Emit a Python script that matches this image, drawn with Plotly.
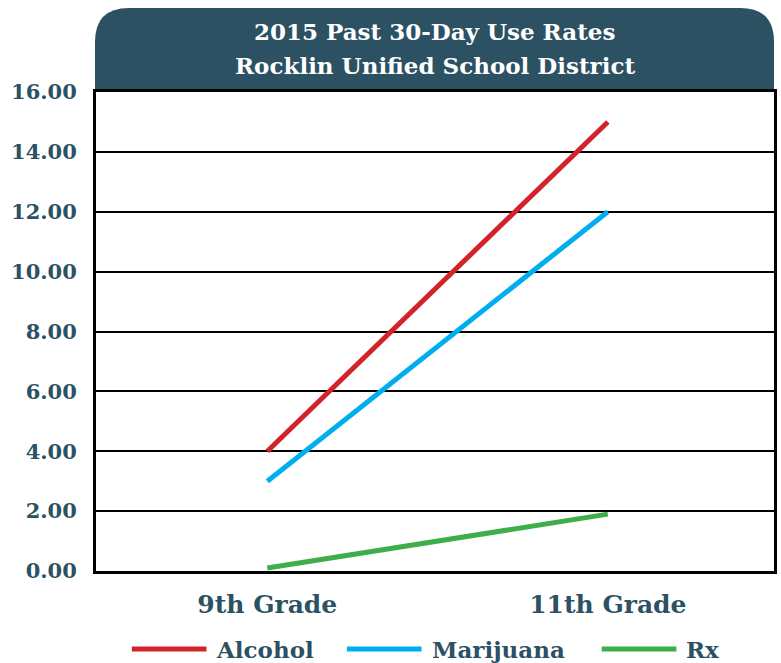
import plotly.graph_objects as go

grades = ["9th Grade", "11th Grade"]
series_names = ["Alcohol", "Marijuana", "Rx"]
alcohol = [4.0, 15.0]
marijuana = [3.0, 12.0]
rx = [0.1, 1.9]
colors = ["#D2232A", "#00AEEF", "#3DAE49"]
y_ticks = [0, 2, 4, 6, 8, 10, 12, 14, 16]
title_lines = ["2015 Past 30-Day Use Rates", "Rocklin Unified School District"]

TEXT = "#2B5163"
FONT = "DejaVu Serif"

fig = go.Figure()
for name, vals, col in zip(series_names, [alcohol, marijuana, rx], colors):
    fig.add_trace(go.Scatter(x=[0, 1], y=vals, mode="lines", name=name,
                             line=dict(color=col, width=5), showlegend=False))

W, H = 781, 663
ml, mr, mt, mb = 96, 4, 92, 92
pw, ph = W - ml - mr, H - mt - mb

def px2x(p):
    return (p - ml) / pw

def py2y(p):
    return (H - mb - p) / ph

# header with rounded top corners
x0, x1 = px2x(95), px2x(777)
y0, y1 = 1.0, py2y(8)
r = 34
rx_, ry_ = r / pw, r / ph
path = (f"M{x0},{y0} L{x0},{y1-ry_} Q{x0},{y1} {x0+rx_},{y1} "
        f"L{x1-rx_},{y1} Q{x1},{y1} {x1},{y1-ry_} L{x1},{y0} Z")
shapes = [dict(type="path", path=path, xref="paper", yref="paper",
               fillcolor=TEXT, line=dict(width=0), layer="below")]

annotations = []
for line, ty in zip(title_lines, [32, 65]):
    annotations.append(dict(text=line, x=px2x(436), y=py2y(ty), xref="paper", yref="paper",
                            showarrow=False, xanchor="center", yanchor="middle",
                            font=dict(family=FONT, size=23, color="white", weight="bold")))

# custom legend
leg_x = [132, 348, 604]
leg_y = py2y(649)
for name, col, lx in zip(series_names, colors, leg_x):
    shapes.append(dict(type="line", xref="paper", yref="paper",
                       x0=px2x(lx), x1=px2x(lx + 75), y0=leg_y, y1=leg_y,
                       line=dict(color=col, width=5)))
    annotations.append(dict(text=name, x=px2x(lx + 83), y=leg_y, xref="paper", yref="paper",
                            showarrow=False, xanchor="left", yanchor="middle",
                            font=dict(family=FONT, size=23, color=TEXT, weight="bold")))

fig.update_layout(
    width=W, height=H,
    margin=dict(l=ml, r=mr, t=mt, b=mb),
    paper_bgcolor="white", plot_bgcolor="white",
    shapes=shapes, annotations=annotations,
    xaxis=dict(range=[-0.503, 1.488], tickvals=[0, 1], ticktext=grades,
               showgrid=False, zeroline=False, showline=True, mirror=True,
               linecolor="black", linewidth=3, ticks="", ticklabelstandoff=9,
               tickfont=dict(family=FONT, size=25, color=TEXT, weight="bold")),
    yaxis=dict(range=[0, 16], tickvals=y_ticks, tickformat=".2f",
               showgrid=True, gridcolor="black", gridwidth=2,
               zeroline=False, showline=True, mirror=True,
               linecolor="black", linewidth=3, ticks="", ticklabelstandoff=12,
               tickfont=dict(family=FONT, size=21, color=TEXT, weight="bold")),
)

fig.write_html("out.html", config={"displayModeBar": False})
with open("out.html", "r", encoding="utf-8") as f:
    html = f.read()
html = html.replace("<head>", "<head><style>html,body{margin:0;padding:0;overflow:hidden}</style>", 1)
with open("out.html", "w", encoding="utf-8") as f:
    f.write(html)
